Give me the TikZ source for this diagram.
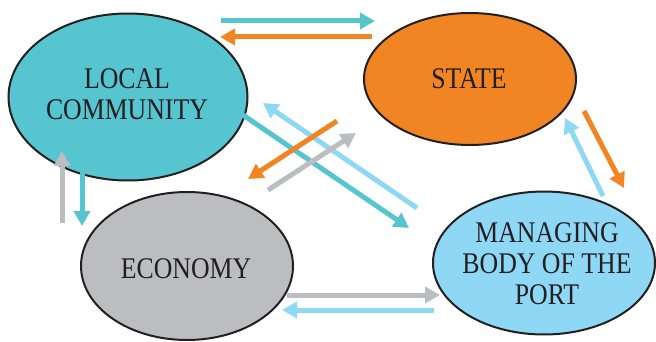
\documentclass[tikz,border=0pt]{standalone}
\usepackage{fontspec}
\setmainfont[FakeStretch=0.86]{Liberation Serif}
\usetikzlibrary{shapes.geometric,arrows.meta}
\definecolor{comcol}{HTML}{56C5D0}
\definecolor{stcol}{HTML}{F28523}
\definecolor{ecocol}{HTML}{BCBDC0}
\definecolor{portcol}{HTML}{8ED8F6}
\definecolor{txtcol}{HTML}{231F20}
\begin{document}
\begin{tikzpicture}[x=1pt, y=-1pt, every node/.style={inner sep=0pt,outer sep=0pt},
  bub/.style={ellipse, draw=txtcol, line width=2pt},
  txt/.style={font=\fontsize{30}{31}\selectfont, text=txtcol, align=center},
  arr/.style={line width=5pt, -{Triangle[length=15pt,width=16pt]}}]
      \useasboundingbox (0,0) rectangle (656,342);

      \draw (128,97) node[bub, fill=comcol, minimum width=239, minimum height=167] (com) {};
      \draw (470,79) node[bub, fill=stcol, minimum width=212, minimum height=132] (st) {};
      \draw (187,266) node[bub, fill=ecocol, minimum width=212, minimum height=148] (eco) {};
      \draw (544,263) node[bub, fill=portcol, minimum width=222, minimum height=143] (port) {};

      \draw (127,94) node[txt] (comtxt) {LOCAL\\COMMUNITY};
      \draw (469,79) node[txt] (sttxt) {STATE};
      \draw (186,269) node[txt] (ecotxt) {ECONOMY};
      \draw (547,264) node[txt] (porttxt) {MANAGING\\BODY OF THE\\PORT};

      \coordinate (a1) at (221,21);  \coordinate (b1) at (375,21);
      \coordinate (a2) at (372,37);  \coordinate (b2) at (220,37);
      \coordinate (a3) at (417,208); \coordinate (b3) at (263,103);
      \coordinate (a4) at (243,115); \coordinate (b4) at (409,228);
      \coordinate (a5) at (337,121); \coordinate (b5) at (248,179);
      \coordinate (a6) at (268,190); \coordinate (b6) at (356,133);
      \coordinate (a7) at (603,196); \coordinate (b7) at (565,118);
      \coordinate (a8) at (584,111); \coordinate (b8) at (624,188);
      \coordinate (a9) at (62,223);  \coordinate (b9) at (62,151);
      \coordinate (a10) at (82,170); \coordinate (b10) at (82,226);
      \coordinate (a11) at (287,295); \coordinate (b11) at (440,295);
      \coordinate (a12) at (434,310); \coordinate (b12) at (282,310);

      \draw[arr, comcol] (a1) -- (b1);
      \draw[arr, stcol] (a2) -- (b2);
      \draw[arr, portcol] (a3) -- (b3);
      \draw[arr, comcol] (a4) -- (b4);
      \draw[arr, stcol] (a5) -- (b5);
      \draw[arr, ecocol] (a6) -- (b6);
      \draw[arr, portcol] (a7) -- (b7);
      \draw[arr, stcol] (a8) -- (b8);
      \draw[arr, ecocol] (a9) -- (b9);
      \draw[arr, comcol] (a10) -- (b10);
      \draw[arr, ecocol] (a11) -- (b11);
      \draw[arr, portcol] (a12) -- (b12);
    \end{tikzpicture}
\end{document}
